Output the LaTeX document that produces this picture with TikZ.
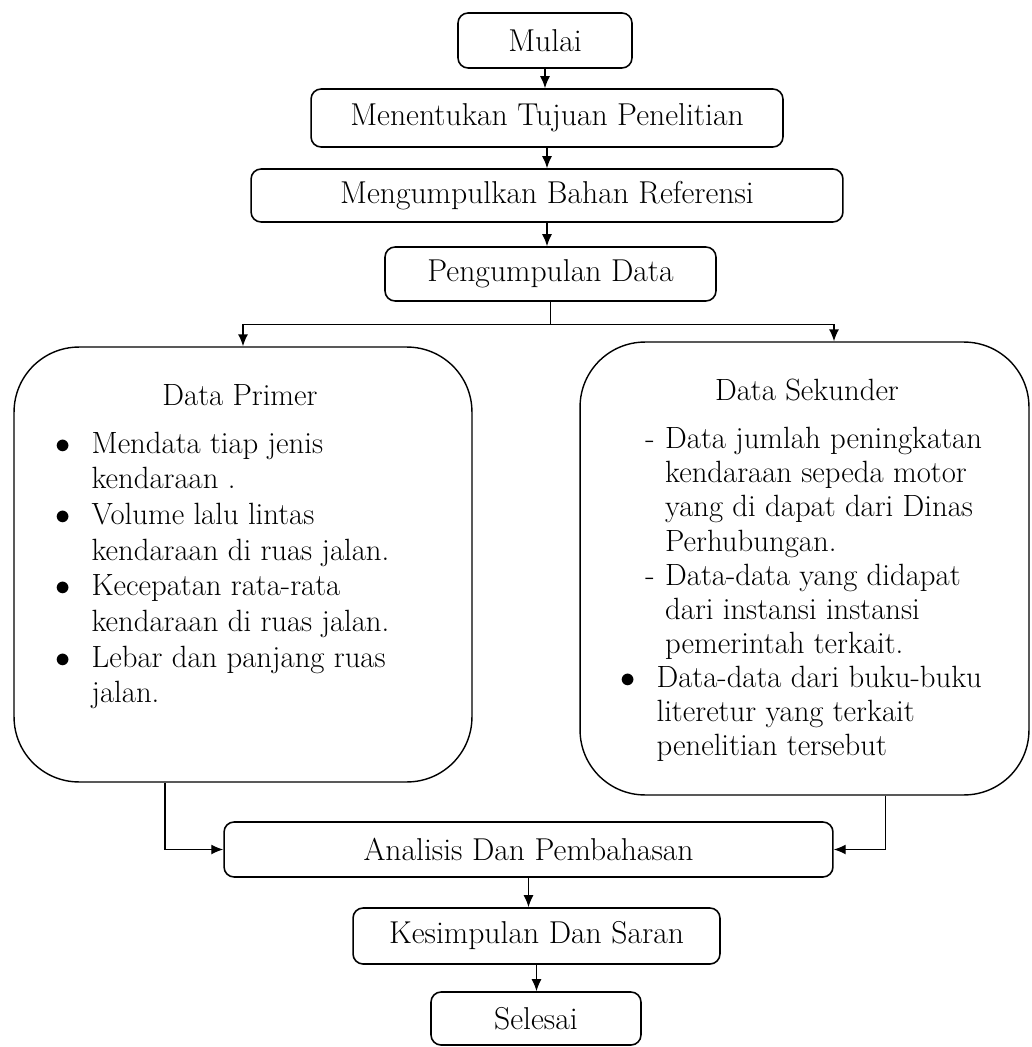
\documentclass[tikz,border=0pt]{standalone}
\usepackage{amssymb}
\usetikzlibrary{arrows.meta}

\begin{document}
\begin{tikzpicture}[x=0.02cm,y=-0.02cm,
  box/.style={draw,rounded corners=0.2cm,line width=0.9pt,inner sep=0pt,font=\fontsize{18}{22}\selectfont},
  bigbox/.style={draw,rounded corners=1.3cm,line width=0.8pt,inner sep=0pt},
  txt/.style={inner sep=0pt,anchor=north west,align=left},
  arr/.style={-{Latex[length=0.24cm,width=0.2cm]},line width=0.8pt}]
\useasboundingbox (0,0) rectangle (1031,1047);
\node[box,minimum width=3.48cm,minimum height=1.1cm] (mulai) at (545,40.5) {Mulai};
\node[box,minimum width=9.44cm,minimum height=1.16cm] (tujuan) at (547,118) {Menentukan Tujuan Penelitian};
\node[box,minimum width=11.84cm,minimum height=1.06cm] (referensi) at (547,195.5) {Mengumpulkan Bahan Referensi};
\node[box,minimum width=6.62cm,minimum height=1.08cm] (pengumpulan) at (550.5,274) {Pengumpulan Data};
\node[bigbox,minimum width=9.16cm,minimum height=8.7cm] (primer) at (243,564.5) {};
\node[bigbox,minimum width=8.98cm,minimum height=9.06cm] (sekunder) at (804.5,568.5) {};
\node[box,minimum width=12.18cm,minimum height=1.1cm] (analisis) at (528.5,849.5) {Analisis Dan Pembahasan};
\node[box,minimum width=7.34cm,minimum height=1.12cm] (kesimpulan) at (536.5,936) {Kesimpulan Dan Saran};
\node[box,minimum width=4.2cm,minimum height=1.06cm] (selesai) at (536,1018.5) {Selesai};
% isi kotak data
\node[font=\fontsize{17.5}{21}\selectfont] (primerjudul) at (240,395) {Data Primer};
\node[font=\fontsize{17.5}{21}\selectfont] (sekunderjudul) at (807,390) {Data Sekunder};
\node[txt,font=\fontsize{17.5}{20.3}\selectfont] (primerlist) at (55,428) {\begin{tabular}{@{}l@{\hspace{12pt}}l@{}}
$\bullet$ & Mendata tiap jenis\\
 & kendaraan .\\
$\bullet$ & Volume lalu lintas\\
 & kendaraan di ruas jalan.\\
$\bullet$ & Kecepatan rata-rata\\
 & kendaraan di ruas jalan.\\
$\bullet$ & Lebar dan panjang ruas\\
 & jalan.
\end{tabular}};
\node[txt,font=\fontsize{17.5}{19.5}\selectfont] (sekunderlistA) at (645,424) {\begin{tabular}{@{}l@{\hspace{6pt}}l@{}}
- & Data jumlah peningkatan\\
 & kendaraan sepeda motor\\
 & yang di dapat dari Dinas\\
 & Perhubungan.\\
- & Data-data yang didapat\\
 & dari instansi instansi\\
 & pemerintah terkait.
\end{tabular}};
\node[txt,font=\fontsize{17.5}{19.5}\selectfont] (sekunderlistB) at (620,663) {\begin{tabular}{@{}l@{\hspace{12pt}}l@{}}
$\bullet$ & Data-data dari buku-buku\\
 & literetur yang terkait\\
 & penelitian tersebut
\end{tabular}};
% panah
\draw[arr] (mulai.south) -- (mulai.south |- tujuan.north);
\draw[arr] (tujuan.south) -- (tujuan.south |- referensi.north);
\draw[arr] (referensi.south) -- (referensi.south |- pengumpulan.north);
\draw (pengumpulan.south) -- ++(0,23) coordinate (split);
\draw[arr] (split) -| (primer.north);
\draw[arr] (split) -| ([xshift=0.59cm]sekunder.north);
\draw[arr] ([xshift=-1.56cm]primer.south) |- (analisis.west);
\draw[arr] ([xshift=1.62cm]sekunder.south) |- (analisis.east);
\draw[arr] (analisis.south) -- (analisis.south |- kesimpulan.north);
\draw[arr] (kesimpulan.south) -- (kesimpulan.south |- selesai.north);
\end{tikzpicture}
\end{document}
